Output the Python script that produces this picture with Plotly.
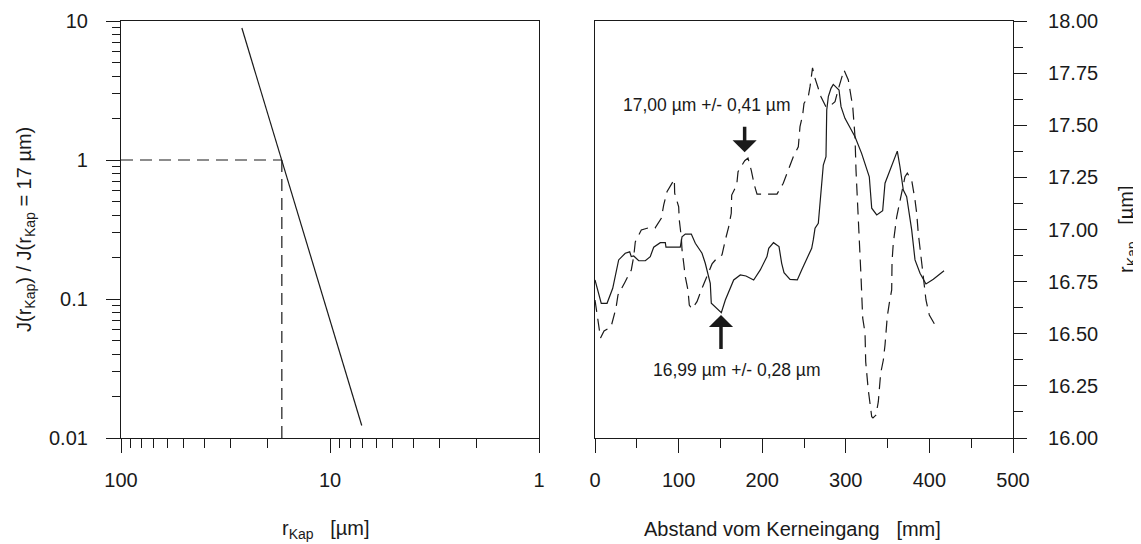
import plotly.graph_objects as go

# page body has an 8px margin; the figure is sized to fit the 1141x544 window
OFF = 8
W, H = 1141 - OFF, 544 - OFF

# ---------------- Left panel data ----------------
r_kap = [26.4, 7.05]            # r_Kap [µm]
j_ratio = [8.9, 0.0123]         # J(r)/J(17 µm)
guide_h_x = [100, 17]
guide_h_y = [1, 1]
guide_v_x = [17, 17]
guide_v_y = [1, 0.01]

left_x_ticks = [100, 10, 1]
left_x_ticklabels = ["100", "10", "1"]
left_x_minor = [90, 80, 70, 60, 50, 40, 30, 20, 9, 8, 7, 6, 5, 4, 3, 2]
left_y_ticks = [0.01, 0.1, 1, 10]
left_y_ticklabels = ["0.01", "0.1", "1", "10"]
left_y_minor = [0.02, 0.03, 0.04, 0.05, 0.06, 0.07, 0.08, 0.09,
                0.2, 0.3, 0.4, 0.5, 0.6, 0.7, 0.8, 0.9,
                2, 3, 4, 5, 6, 7, 8, 9]

# ---------------- Right panel data ----------------
solid_x = [0, 7.5, 14.4, 21.2, 28.3, 36.2, 41.5, 43.4, 46.3, 52.3, 60.2, 66.1, 70.2, 78.1,
           84.1, 84.9, 102.0, 104.1, 108.0, 115.2, 120.0, 128.0, 131.9, 135.2, 137.9, 139.1,
           151.1, 155.9, 165.9, 173.8, 180.6, 189.8, 197.7, 205.7, 207.8, 213.5, 220.1, 223.3,
           226.1, 233.3, 242.0, 247.2, 253.2, 259.2, 261.1, 263.2, 267.1, 271.2, 273.1, 276.3,
           277.2, 279.1, 282.3, 285.0, 291.9, 294.3, 299.0, 311.0, 318.9, 328.1, 331.0, 337.0,
           344.1, 346.9, 354.9, 361.6, 364.8, 368.8, 372.8, 376.0, 378.8, 382.8, 388.8, 395.9,
           404.7, 417.5]
solid_y = [16.758, 16.646, 16.646, 16.718, 16.854, 16.886, 16.893, 16.870, 16.873, 16.850,
           16.850, 16.870, 16.915, 16.937, 16.937, 16.915, 16.915, 16.965, 16.978, 16.978,
           16.934, 16.886, 16.838, 16.782, 16.742, 16.646, 16.601, 16.662, 16.758, 16.782,
           16.777, 16.758, 16.806, 16.870, 16.910, 16.937, 16.918, 16.838, 16.793, 16.761,
           16.758, 16.806, 16.862, 16.910, 16.950, 17.006, 17.030, 17.222, 17.309, 17.349,
           17.573, 17.637, 17.677, 17.696, 17.669, 17.589, 17.533, 17.445, 17.365, 17.253,
           17.102, 17.070, 17.090, 17.222, 17.309, 17.376, 17.301, 17.189, 17.157, 17.078,
           16.998, 16.854, 16.790, 16.739, 16.761, 16.802]

dashed_x = [0, 6.6, 10.8, 19.1, 25.1, 27.5, 35.5, 43.4, 46.3, 48.2, 55.4, 63.4, 71.8, 79.3,
            82.2, 86.1, 94.9, 95.3, 100.1, 100.8, 103.2, 104.1, 106.1, 108.0, 111.2, 112.8,
            116.0, 122.0, 128.0, 134.0, 140.0, 145.9, 151.9, 155.9, 159.9, 163.0, 163.5, 169.5,
            171.1, 179.1, 183.0, 187.0, 190.6, 193.8, 217.7, 225.2, 231.2, 237.2, 243.2, 245.2,
            248.4, 250.0, 255.1, 257.2, 260.2, 263.2, 270.3, 276.3, 279.9, 287.1, 290.7, 297.8,
            303.0, 305.9, 308.3, 309.8, 311.0, 312.2, 313.8, 315.0, 317.0, 318.2, 320.2, 323.0,
            323.8, 326.9, 331.0, 332.5, 336.1, 338.9, 341.7, 344.9, 346.9, 349.6, 352.0, 354.9,
            355.3, 356.8, 360.9, 364.8, 370.8, 373.6, 378.8, 382.8, 384.8, 386.7, 388.8, 391.1,
            395.9, 399.9, 407.9]
dashed_y = [16.662, 16.480, 16.513, 16.532, 16.623, 16.686, 16.745, 16.806, 16.870, 16.941,
            16.998, 17.007, 17.007, 17.054, 17.118, 17.181, 17.241, 17.174, 17.109, 17.046,
            16.965, 16.902, 16.838, 16.774, 16.710, 16.638, 16.619, 16.654, 16.718, 16.774,
            16.835, 16.863, 16.878, 16.950, 17.013, 17.078, 17.165, 17.213, 17.277, 17.330,
            17.343, 17.282, 17.213, 17.170, 17.170, 17.222, 17.285, 17.349, 17.397, 17.493,
            17.549, 17.605, 17.637, 17.685, 17.775, 17.725, 17.637, 17.588, 17.588, 17.613,
            17.669, 17.765, 17.717, 17.653, 17.589, 17.509, 17.445, 17.285, 17.151, 17.079,
            16.935, 16.774, 16.576, 16.504, 16.366, 16.230, 16.102, 16.096, 16.110, 16.174,
            16.310, 16.374, 16.446, 16.582, 16.646, 16.710, 16.846, 16.934, 17.061, 17.141,
            17.253, 17.270, 17.237, 17.141, 17.078, 16.982, 16.918, 16.830, 16.662, 16.590,
            16.534]

right_x_ticks = [0, 100, 200, 300, 400, 500]
right_x_minor = [50, 150, 250, 350, 450]
right_y_ticks = [16.0, 16.25, 16.5, 16.75, 17.0, 17.25, 17.5, 17.75, 18.0]

# annotations: (text, x, y)
label_top = ("17,00 µm +/- 0,41 µm", 134, 17.597)
label_bot = ("16,99 µm +/- 0,28 µm", 170, 16.326)
arrow_down = dict(tip=(179, 17.37), tail=(179, 17.50))
arrow_up = dict(tip=(150.7, 16.59), tail=(150.7, 16.42))

# ---------------- Figure ----------------
FONT = "Liberation Sans, Arial, Helvetica, sans-serif"
INK = "#1a1a1a"


def px_x(p):
    """window pixel -> paper fraction"""
    return (p - OFF) / W


def px_y(p):
    return 1 - (p - OFF) / H


fig = go.Figure()

fig.add_trace(go.Scatter(x=r_kap, y=j_ratio, mode="lines", xaxis="x", yaxis="y",
                         line=dict(color=INK, width=1.2), showlegend=False))
fig.add_trace(go.Scatter(x=guide_h_x, y=guide_h_y, mode="lines", xaxis="x", yaxis="y",
                         line=dict(color=INK, width=1.2, dash="12px,7px"), showlegend=False))
fig.add_trace(go.Scatter(x=guide_v_x, y=guide_v_y, mode="lines", xaxis="x", yaxis="y",
                         line=dict(color=INK, width=1.2, dash="12px,7px"), showlegend=False))

fig.add_trace(go.Scatter(x=solid_x, y=solid_y, mode="lines", xaxis="x2", yaxis="y2",
                         line=dict(color=INK, width=1.2), showlegend=False))
fig.add_trace(go.Scatter(x=dashed_x, y=dashed_y, mode="lines", xaxis="x2", yaxis="y2",
                         line=dict(color=INK, width=1.2, dash="12px,7px"), showlegend=False))

left_dom = [px_x(121), px_x(539)]
right_dom = [px_x(595), px_x(1013)]
y_dom = [px_y(438), px_y(21)]

axis_common = dict(showgrid=False, zeroline=False, showline=True, linecolor=INK,
                   linewidth=1.2, mirror=True, ticks="outside", tickcolor=INK,
                   tickwidth=1.2, ticklen=14, automargin=False,
                   tickfont=dict(family=FONT, size=20, color=INK))

fig.update_layout(
    width=W, height=H,
    margin=dict(l=0, r=0, t=0, b=0),
    paper_bgcolor="white", plot_bgcolor="white",
    font=dict(family=FONT, size=20, color=INK),
    xaxis=dict(axis_common, domain=left_dom, anchor="y", type="log", range=[2, 0],
               tickvals=left_x_ticks, ticktext=left_x_ticklabels, ticklabelstandoff=10,
               minor=dict(tickvals=left_x_minor, ticks="outside", ticklen=9,
                          tickcolor=INK, tickwidth=1.2, showgrid=False)),
    yaxis=dict(axis_common, domain=y_dom, anchor="x", type="log", range=[-2, 1],
               tickvals=left_y_ticks, ticktext=left_y_ticklabels, ticklabelstandoff=14,
               minor=dict(tickvals=left_y_minor, ticks="outside", ticklen=8,
                          tickcolor=INK, tickwidth=1.2, showgrid=False)),
    xaxis2=dict(axis_common, domain=right_dom, anchor="y2", range=[0, 500],
                tickvals=right_x_ticks, ticklabelstandoff=10,
                minor=dict(tickvals=right_x_minor, ticks="outside", ticklen=9,
                           tickcolor=INK, tickwidth=1.2, showgrid=False)),
    yaxis2=dict(axis_common, domain=y_dom, anchor="x2", side="right", range=[16, 18],
                tickvals=right_y_ticks, tickformat=".2f", ticklabelstandoff=17, ticklen=13,
                minor=dict(dtick=0.125, tick0=16, ticks="outside", ticklen=9,
                           tickcolor=INK, tickwidth=1.2, showgrid=False)),
)

annots = []
# axis titles
annots.append(dict(text="J(r<sub>Kap</sub>) / J(r<sub>Kap</sub> = 17 µm)", x=px_x(25), y=px_y(230),
                   xref="paper", yref="paper", textangle=-90, showarrow=False,
                   xanchor="center", yanchor="middle", font=dict(family=FONT, size=20, color=INK)))
annots.append(dict(text="r<sub>Kap</sub>\u00a0\u00a0\u00a0[µm]", x=px_x(1127), y=px_y(229),
                   xref="paper", yref="paper", textangle=-90, showarrow=False,
                   xanchor="center", yanchor="middle", font=dict(family=FONT, size=20, color=INK)))
annots.append(dict(text="r<sub>Kap</sub>\u00a0\u00a0\u00a0[µm]", x=px_x(326), y=px_y(529),
                   xref="paper", yref="paper", showarrow=False,
                   xanchor="center", yanchor="middle", font=dict(family=FONT, size=20, color=INK)))
annots.append(dict(text="Abstand vom Kerneingang\u00a0\u00a0\u00a0[mm]", x=px_x(792), y=px_y(529),
                   xref="paper", yref="paper", showarrow=False,
                   xanchor="center", yanchor="middle", font=dict(family=FONT, size=20, color=INK)))
# value labels
for txt, xv, yv in (label_top, label_bot):
    annots.append(dict(text=txt, x=xv, y=yv, xref="x2", yref="y2", showarrow=False,
                       xanchor="center", yanchor="middle",
                       font=dict(family=FONT, size=17.5, color=INK)))
# arrows
for arr in (arrow_down, arrow_up):
    annots.append(dict(text="", x=arr["tip"][0], y=arr["tip"][1], ax=arr["tail"][0],
                       ay=arr["tail"][1], xref="x2", yref="y2", axref="x2", ayref="y2",
                       showarrow=True, arrowhead=1, arrowsize=1.15, arrowwidth=3.5,
                       arrowcolor=INK))
fig.update_layout(annotations=annots)

fig.write_html("out.html")
